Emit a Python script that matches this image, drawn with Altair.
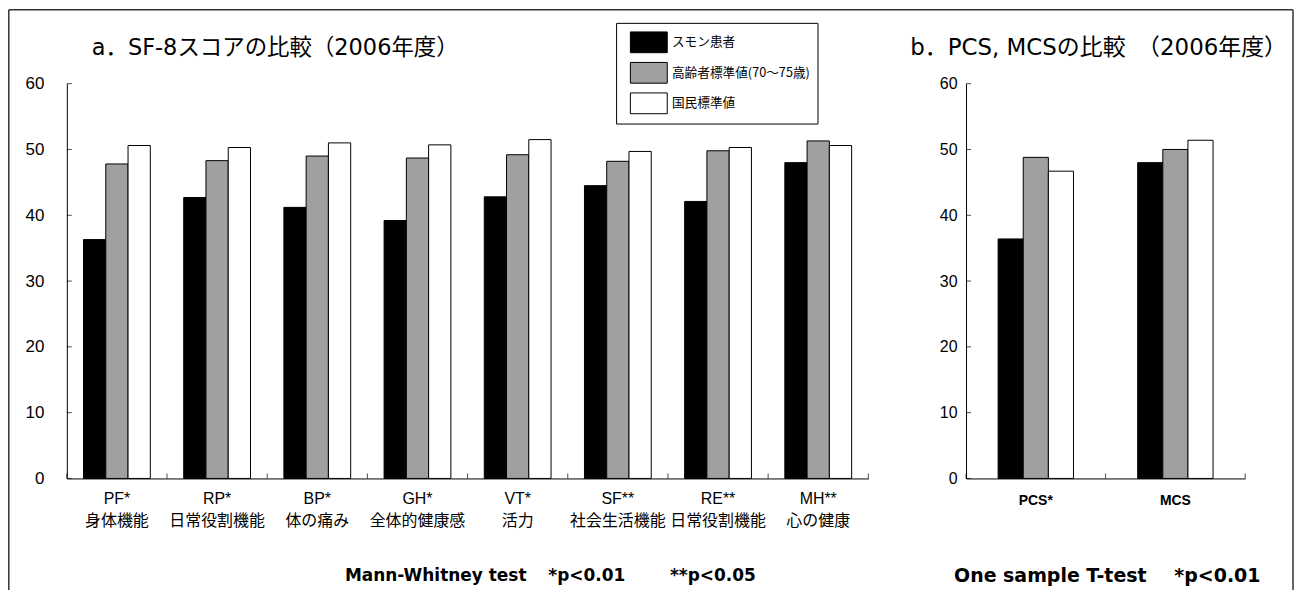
import altair as alt
import pandas as pd

# ---------------- data ----------------
series = ["スモン患者", "高齢者標準値(70～75歳)", "国民標準値"]
series_colors = ["#000000", "#a0a0a0", "#ffffff"]

categories_a = ["PF*\n身体機能", "RP*\n日常役割機能", "BP*\n体の痛み", "GH*\n全体的健康感",
                "VT*\n活力", "SF**\n社会生活機能", "RE**\n日常役割機能", "MH**\n心の健康"]
smon_a = [36.3, 42.7, 41.2, 39.2, 42.8, 44.5, 42.1, 48.0]
elderly_a = [47.8, 48.3, 49.0, 48.7, 49.2, 48.2, 49.8, 51.3]
national_a = [50.6, 50.3, 51.0, 50.7, 51.5, 49.7, 50.3, 50.6]

categories_b = ["PCS*", "MCS"]
smon_b = [36.4, 48.0]
elderly_b = [48.8, 50.0]
national_b = [46.7, 51.4]

y_ticks = [0, 10, 20, 30, 40, 50, 60]

title_a = "a．SF-8スコアの比較（2006年度）"
title_b = ["b．PCS, MCSの比較", "（2006年度）"]
note_a = ["Mann-Whitney test", "*p<0.01", "**p<0.05"]
note_b = ["One sample T-test", "*p<0.01"]

# ---------------- helpers ----------------
JP = "Noto Sans CJK JP"
TITLEF = "DejaVu Sans, Noto Sans CJK JP"
LAT = "Liberation Sans, Noto Sans CJK JP"
BOLD = "DejaVu Sans"

W_A, W_B, H = 804, 280, 396


def long_df(cats, vals):
    rows = []
    for s, v in zip(series, vals):
        for c, x in zip(cats, v):
            rows.append({"cat": c, "series": s, "value": x})
    return pd.DataFrame(rows)


def text(s, x, y, size, weight="normal", font=JP, align="left"):
    return alt.Chart(pd.DataFrame({"t": [s]})).mark_text(
        align=align, baseline="middle", fontSize=size, fontWeight=weight,
        font=font, color="black"
    ).encode(text="t:N", x=alt.value(x), y=alt.value(y))


color = alt.Color(
    "series:N", sort=series,
    scale=alt.Scale(domain=series, range=series_colors),
    legend=alt.Legend(
        title=None, orient="none", legendX=551, legendY=-61,
        strokeColor="black", fillColor="white", padding=7, cornerRadius=0,
        symbolType="M-0.45,-0.9H2.75V0.9H-0.45Z", symbolSize=535,
        symbolStrokeColor="black", symbolStrokeWidth=1,
        labelFont=JP, labelFontSize=12.7, labelOffset=24, rowPadding=5.6,
        labelColor="black",
    ),
)

yscale = alt.Scale(domain=[0, 60], nice=False)


def panel(cats, vals, x_axis, y_axis, off_scale):
    xs = alt.Scale(paddingInner=0, paddingOuter=0)
    df = long_df(cats, vals)
    bars = alt.Chart(df).mark_bar(stroke="black", strokeWidth=1).encode(
        x=alt.X("cat:N", sort=cats, title=None, scale=xs, axis=x_axis),
        xOffset=alt.XOffset("series:N", sort=series, scale=off_scale),
        y=alt.Y("value:Q", scale=yscale, title=None, axis=y_axis),
        color=color,
    )
    yt = alt.Chart(pd.DataFrame({"v": y_ticks})).mark_tick(
        orient="horizontal", size=5, thickness=1, color="black"
    ).encode(y=alt.Y("v:Q", scale=yscale, title=None), x=alt.value(2.5))
    xt = alt.Chart(pd.DataFrame({"cat": cats})).mark_tick(
        orient="vertical", size=5, thickness=1, color="black"
    ).encode(x=alt.X("cat:N", sort=cats, bandPosition=0, scale=xs, title=None),
             y=alt.value(H - 2.5))
    xt_end = alt.Chart(pd.DataFrame({"cat": cats[-1:]})).mark_tick(
        orient="vertical", size=5, thickness=1, color="black"
    ).encode(x=alt.X("cat:N", sort=cats, bandPosition=1, scale=xs, title=None),
             y=alt.value(H - 2.5))
    return [bars, yt, xt, xt_end]


x_axis_a = alt.Axis(
    labelAngle=0, ticks=False, domainColor="black", domainWidth=1,
    labelFont=LAT, labelFontSize=16, labelColor="black", labelLineHeight=22,
    labelPadding=12, labelExpr="split(datum.label, '\\n')", labelLimit=200,
)
y_axis_a = alt.Axis(
    values=y_ticks, ticks=False, tickSize=0, grid=False, domainColor="black",
    domainWidth=1, labelFont=LAT, labelFontSize=17, labelColor="black",
    labelPadding=23,
)
x_axis_b = alt.Axis(
    labelAngle=0, ticks=False, domainColor="black", domainWidth=1,
    labelFont="Liberation Sans", labelFontSize=14, labelFontWeight="bold",
    labelColor="black", labelPadding=15,
)
y_axis_b = alt.Axis(
    values=y_ticks, ticks=False, tickSize=0, grid=False, domainColor="black",
    domainWidth=1, labelFont=LAT, labelFontSize=16, labelColor="black",
    labelPadding=9,
)

# frame (decoration) drawn in panel a coordinates
one = pd.DataFrame({"k": [0]})
FL, FT, FR, FB = -58.2, -74.2, 1230, 508
frame = [
    alt.Chart(one).mark_rule(color="#333333", strokeWidth=1.5).encode(
        x=alt.value(FL), y=alt.value(FT), y2=alt.value(FB)),
    alt.Chart(one).mark_rule(color="#333333", strokeWidth=1.5).encode(
        x=alt.value(FL), x2=alt.value(FR), y=alt.value(FT)),
    alt.Chart(one).mark_rule(color="#333333", strokeWidth=1.5).encode(
        x=alt.value(FR), y=alt.value(FT), y2=alt.value(FB)),
]

layers_a = panel(
    categories_a, [smon_a, elderly_a, national_a], x_axis_a, y_axis_a,
    alt.Scale(paddingInner=0, paddingOuter=0.75)) + frame + [
    text(title_a, 25, -36, 22.5, font=TITLEF),
    text(note_a[0], 279, 494, 17, "bold", BOLD),
    text(note_a[1], 483, 494, 17, "bold", BOLD),
    text(note_a[2], 605, 494, 17, "bold", BOLD),
]
chart_a = alt.layer(*layers_a).properties(width=W_A, height=H)

layers_b = panel(
    categories_b, [smon_b, elderly_b, national_b], x_axis_b, y_axis_b,
    alt.Scale(paddingInner=0, paddingOuter=0, range=[32.2, 107.8])) + [
    text(title_b[0], -56, -36, 23, font=TITLEF),
    text(title_b[1], 322, -36, 23, font=TITLEF, align="right"),
    text(note_b[0], -12, 494, 19, "bold", BOLD),
    text(note_b[1], 209, 494, 19, "bold", BOLD),
]
chart_b = alt.layer(*layers_b).properties(width=W_B, height=H)

chart = alt.hconcat(chart_a, chart_b, spacing=98, bounds="flush").resolve_scale(
    color="shared", xOffset="independent", x="independent"
).properties(padding=0, background="white").configure_view(strokeWidth=0)

chart.save("out.html", embed_options={"renderer": "svg", "actions": False})
